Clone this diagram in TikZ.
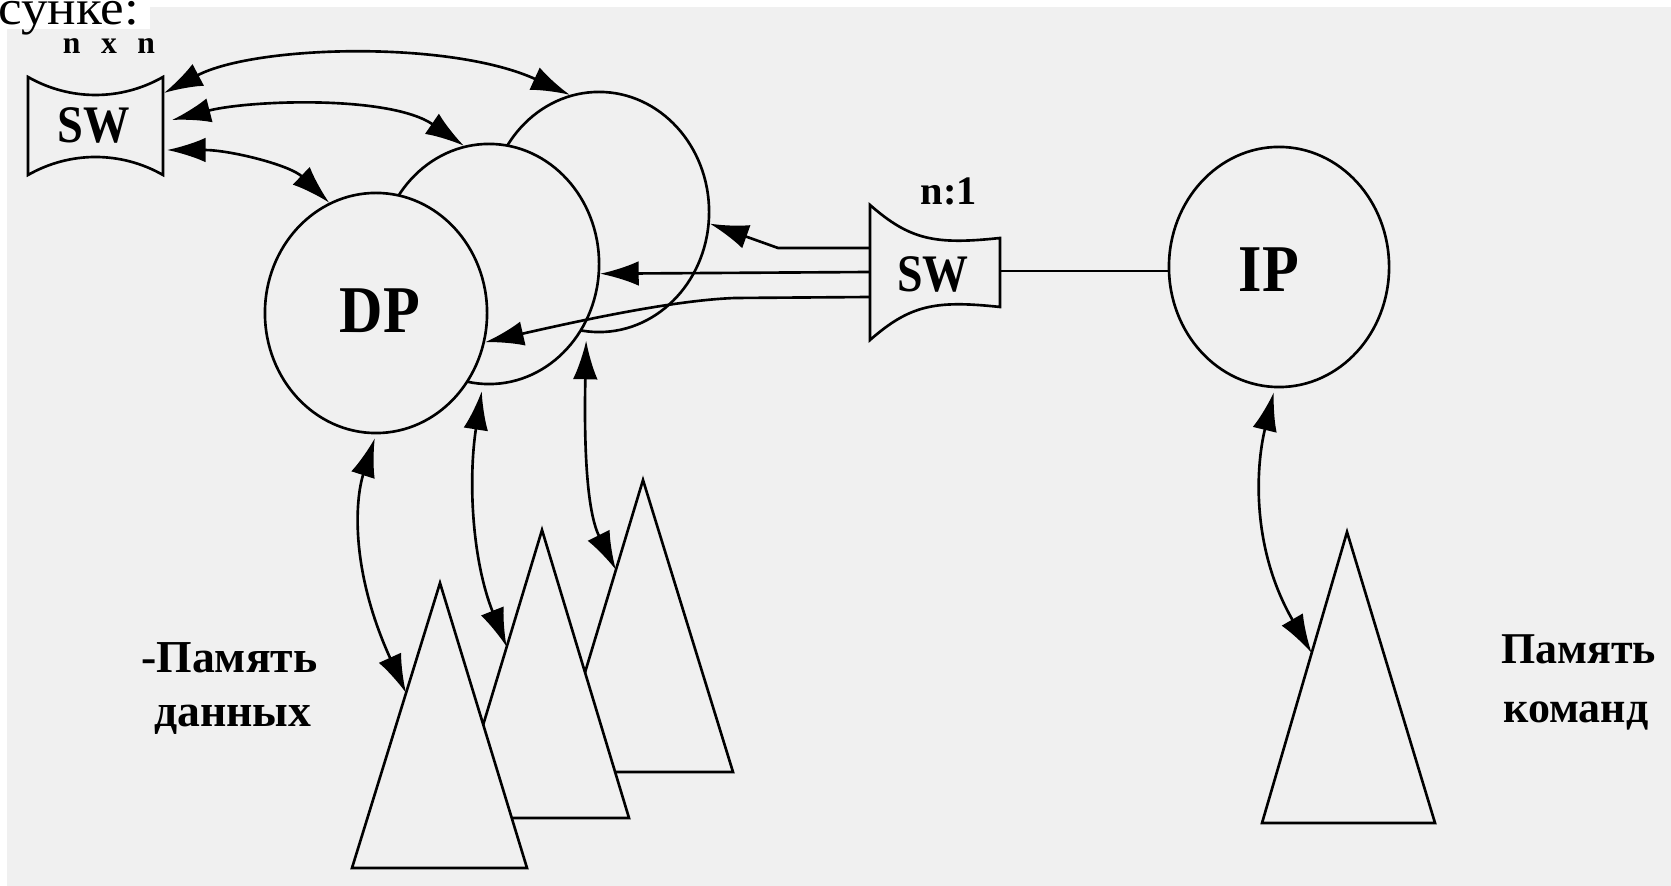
\documentclass[tikz,border=0pt]{standalone}
\usepackage{fontspec}
\usepackage{graphicx}
\setmainfont{Liberation Serif}
\usetikzlibrary{shapes.geometric,arrows.meta,calc}

\definecolor{paper}{RGB}{240,240,240}

\begin{document}
\begin{tikzpicture}[x=0.01cm,y=-0.01cm,line width=0.75pt,
  proc/.style={ellipse,draw,fill=paper,minimum width=2.2cm,minimum height=2.4cm,inner sep=0pt},
  switchbox/.style={draw,fill=paper,line join=miter},
  memtri/.style={draw,fill=paper,line join=miter},
  bigtxt/.style={font=\bfseries\fontsize{19}{22}\selectfont,inner sep=0pt},
  swtxt/.style={font=\bfseries\fontsize{15}{18}\selectfont,inner sep=0pt},
  smalltxt/.style={font=\bfseries\fontsize{11.5}{14}\selectfont,inner sep=0pt},
  memtxt/.style={font=\bfseries\fontsize{13}{16}\selectfont,inner sep=0pt,anchor=base west},
  link/.style={-{Latex[length=11pt,width=7pt]}},
  dbl/.style={{Latex[length=11pt,width=7pt]}-{Latex[length=11pt,width=7pt]}},
]
\useasboundingbox (0,0) rectangle (1671,886);

% page background
\fill[white] (0,0) rectangle (1671,886);
\fill[paper] (7,7) rectangle (1671,886);
\fill[white] (0,0) rectangle (150,29);
\node[inner sep=0pt,anchor=base west,font=\fontsize{14}{16}\selectfont] (caption) at (-3,25) {\scalebox{1.08}[1]{сунке:}};

% n x n switch
\draw[switchbox] (28,77) .. controls (70,101) and (121,101) .. (163,77)
  -- (163,175) .. controls (121,151) and (70,151) .. (28,175) -- cycle;
\node[swtxt] (swn) at (94,125) {\scalebox{0.88}[1]{SW}};
\node[font=\bfseries\fontsize{9}{11}\selectfont,inner sep=0pt] (swncap) at (109,46) {n\hspace{0.65em}x\hspace{0.65em}n};
\coordinate (swnA) at (164,93);
\coordinate (swnB) at (172,120);
\coordinate (swnC) at (167,150);

% n:1 switch
\draw[switchbox] (870,205) .. controls (910,240) and (935,245) .. (1000,238)
  -- (1000,307) .. controls (935,300) and (910,305) .. (870,340) -- cycle;
\node[swtxt] (sw1) at (933,274) {\scalebox{0.87}[1]{SW}};
\node[smalltxt] (sw1cap) at (949,191) {n:1};
\coordinate (sw1a) at (870,248);
\coordinate (sw1b) at (870,272);
\coordinate (sw1c) at (870,297);
\coordinate (sw1out) at (1000,271);

% data processors, back to front
\node[proc] (dp3) at (599,212) {};
\node[proc] (dp2) at (489,264) {};
\node[proc,minimum width=2.22cm] (dp1) at (376,313) {};
\node[bigtxt] (dplbl) at (380,311) {\scalebox{0.9}[1]{DP}};

% instruction processor
\node[proc] (ip) at (1279,267) {};
\node[bigtxt] (iplbl) at (1269,270) {\scalebox{0.9}[1]{IP}};

% data memories, back to front
\coordinate (t3a) at (643,480); \coordinate (t3l) at (555,772); \coordinate (t3r) at (733,772);
\coordinate (t2a) at (542,530); \coordinate (t2l) at (455,818); \coordinate (t2r) at (629,818);
\coordinate (t1a) at (440,583); \coordinate (t1l) at (352,868); \coordinate (t1r) at (527,868);
\draw[memtri] (t3a) -- (t3r) -- (t3l) -- cycle;
\draw[memtri] (t2a) -- (t2r) -- (t2l) -- cycle;
\draw[memtri] (t1a) -- (t1r) -- (t1l) -- cycle;

% instruction memory
\coordinate (tia) at (1347,532); \coordinate (til) at (1262,823); \coordinate (tir) at (1435,823);
\draw[memtri] (tia) -- (tir) -- (til) -- cycle;

\coordinate (t1in) at ($(t1a)!0.386!(t1l)$);
\coordinate (t2in) at ($(t2a)!0.406!(t2l)$);
\coordinate (t3in) at ($(t3a)!0.308!(t3l)$);
\coordinate (tiin) at ($(tia)!0.416!(til)$);

% n x n switch to the processors
\draw[dbl] (swnA) .. controls (255,45) and (450,40) .. (dp3.104);
\draw[dbl] (swnB) .. controls (250,100) and (390,95) .. (dp2.102);
\draw[dbl] (swnC) .. controls (230,150) and (290,165) .. (dp1.113);

% n:1 switch to the processors
\draw[link] (sw1a) -- (778,248) -- (dp3.-6);
\draw[link] (sw1b) -- (dp2.-5);
\draw[link] (sw1c) -- (735,298) .. controls (680,300) and (600,316) .. (dp1.-15);
\draw (sw1out) -- (sw1out -| ip.west);

% processors to memories
\draw[dbl,shorten <=0.04cm] (dp1.-90) .. controls (355,500) and (350,570) .. (t1in);
\draw[dbl,shorten <=0.06cm] (dp2.-93) .. controls (468,480) and (472,560) .. (t2in);
\draw[dbl,shorten <=0.08cm] (dp3.-96) .. controls (584,440) and (586,510) .. (t3in);
\draw[dbl,shorten <=0.04cm] (ip.-92) .. controls (1255,470) and (1252,550) .. (tiin);

% memory labels
\node[memtxt] (dmem1) at (140,672) {-Память};
\node[memtxt] (dmem2) at (153,726) {данных};
\node[memtxt,font=\bfseries\fontsize{12.5}{15}\selectfont] (imem1) at (1500,663) {Память};
\node[memtxt,font=\bfseries\fontsize{12.5}{15}\selectfont] (imem2) at (1502,722) {команд};
\end{tikzpicture}
\end{document}
